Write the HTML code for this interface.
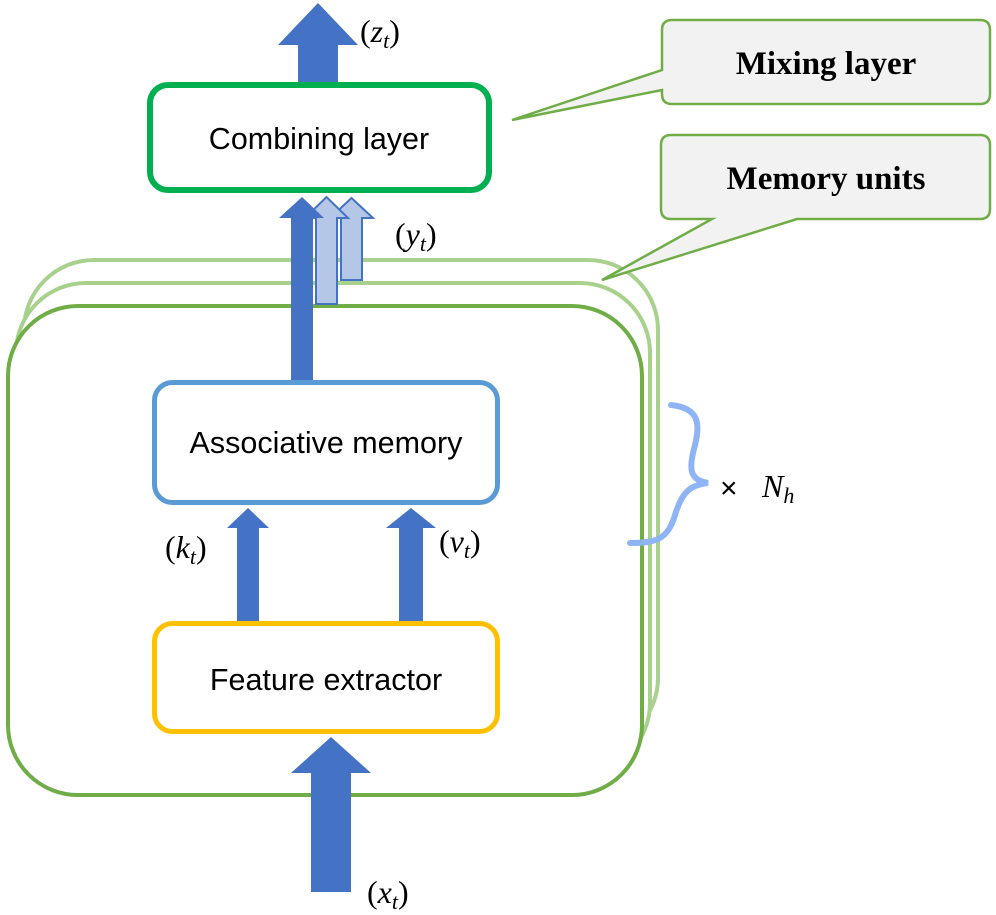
<!DOCTYPE html>
<html><head><meta charset="utf-8"><style>
body{margin:0;background:#fff}
svg{display:block}
.s{font-family:"Liberation Sans","DejaVu Sans",sans-serif;font-size:30.5px}
.m{font-family:"Liberation Serif",serif;font-size:32px}
.m tspan.i{font-style:italic}
.b{font-family:"Liberation Serif",serif;font-size:33px;font-weight:bold}
</style></head><body>
<svg width="996" height="915" viewBox="0 0 996 915" xmlns="http://www.w3.org/2000/svg">
<rect x="24" y="260" width="634" height="488" rx="70" fill="#fff" stroke="#A9D18E" stroke-width="4"/>
<rect x="16" y="283" width="634" height="490" rx="70" fill="#fff" stroke="#A9D18E" stroke-width="4"/>
<rect x="8" y="306" width="634" height="489" rx="70" fill="#fff" stroke="#70AD47" stroke-width="4"/>
<polygon points="341,280 341,218 330,218 351.5,198 373,218 362,218 362,280" fill="#B4C7E7" stroke="#4472C4" stroke-width="2"/>
<polygon points="316,304 316,218 305,218 326.5,197 348,218 337,218 337,304" fill="#B4C7E7" stroke="#4472C4" stroke-width="2"/>
<polygon points="291,380 291,218 279,218 302,197 324,218 313,218 313,380" fill="#4472C4"/>
<polygon points="298,82 298,45 278,45 318,3 358,45 338,45 338,82" fill="#4472C4"/>
<polygon points="237,621 237,528 227,528 248,508 269,528 259,528 259,621" fill="#4472C4"/>
<polygon points="399,621 399,528 386,528 411,508 436,528 423,528 423,621" fill="#4472C4"/>
<polygon points="311,892 311,773 291,773 331,737 371,773 351,773 351,892" fill="#4472C4"/>
<rect x="150" y="85" width="339" height="105" rx="18" fill="#fff" stroke="#00B050" stroke-width="6"/>
<text x="319" y="149" class="s" text-anchor="middle">Combining layer</text>
<rect x="154.5" y="382.5" width="343" height="120" rx="18" fill="#fff" stroke="#5B9BD5" stroke-width="5"/>
<text x="326" y="453" class="s" text-anchor="middle">Associative memory</text>
<rect x="154.5" y="623.5" width="343" height="108" rx="18" fill="#fff" stroke="#FFC000" stroke-width="5"/>
<text x="326" y="690" class="s" text-anchor="middle">Feature extractor</text>
<path d="M672,20 H980 Q990,20 990,30 V94 Q990,104 980,104 H672 Q662,104 662,94 V90 L512,120 L662,70 V30 Q662,20 672,20 Z" fill="#F2F2F2" stroke="#70AD47" stroke-width="2.5"/>
<text x="826" y="74" class="b" text-anchor="middle">Mixing layer</text>
<path d="M671,135 H980 Q990,135 990,145 V209 Q990,219 980,219 H797 L602,280 L712,219 H671 Q661,219 661,209 V145 Q661,135 671,135 Z" fill="#F2F2F2" stroke="#70AD47" stroke-width="2.5"/>
<text x="826" y="189" class="b" text-anchor="middle">Memory units</text>
<path d="M671,405 C700,408 700,425 695,445 C688,470 690,480 708,483 C690,485 682,492 675,515 C668,540 655,543 630,543" fill="none" stroke="#8FB4F5" stroke-width="6" stroke-linecap="round"/>
<text x="720" y="498" class="s" style="font-size:30px">×</text>
<text x="762" y="497" class="m"><tspan class="i">N</tspan><tspan class="i" font-size="22" dy="6">h</tspan></text>
<text x="360" y="42" class="m">(<tspan class="i">z</tspan><tspan class="i" font-size="22" dy="6">t</tspan><tspan dy="-6">)</tspan></text>
<text x="395" y="245" class="m">(<tspan class="i">y</tspan><tspan class="i" font-size="22" dy="6">t</tspan><tspan dy="-6">)</tspan></text>
<text x="165" y="558" class="m">(<tspan class="i">k</tspan><tspan class="i" font-size="22" dy="6">t</tspan><tspan dy="-6">)</tspan></text>
<text x="439" y="552" class="m">(<tspan class="i">v</tspan><tspan class="i" font-size="22" dy="6">t</tspan><tspan dy="-6">)</tspan></text>
<text x="367" y="903" class="m">(<tspan class="i">x</tspan><tspan class="i" font-size="22" dy="6">t</tspan><tspan dy="-6">)</tspan></text>
</svg>
</body></html>
